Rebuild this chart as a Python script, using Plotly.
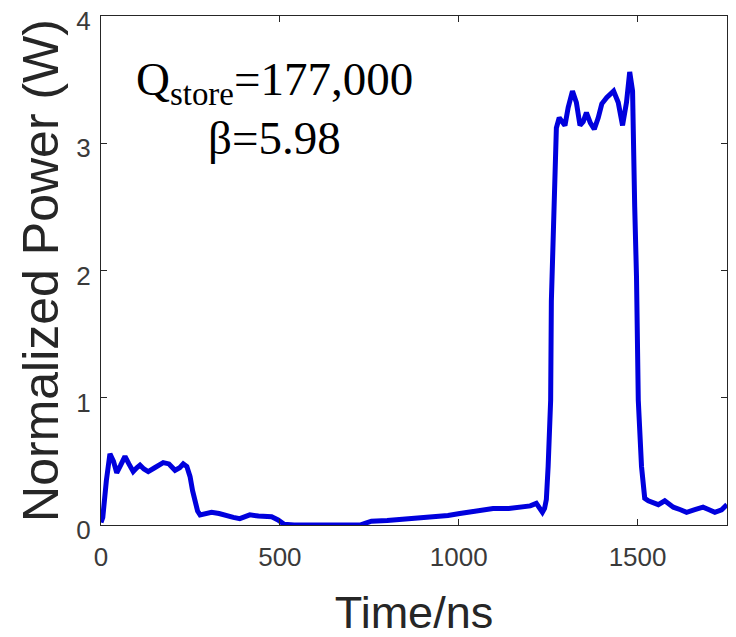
import plotly.graph_objects as go

# Time (ns) and normalized power (W)
time_ns = [0, 5, 15, 25, 35, 44, 55, 67, 78, 90, 100, 109, 120, 132, 150, 174, 190, 207, 220, 230,
           240, 249, 256, 263, 270, 277, 292, 309, 330, 351, 370, 388, 400, 416, 440, 477, 495, 512,
           540, 600, 660, 724, 740, 756, 800, 845, 890, 938, 970, 1003, 1030, 1059, 1096, 1140, 1180,
           1200, 1217, 1226, 1234, 1240, 1245, 1250, 1257, 1259, 1264, 1266, 1269, 1273, 1281, 1290,
           1297, 1306, 1318, 1329, 1339, 1348, 1357, 1368, 1379, 1390, 1400, 1414, 1433, 1446, 1458,
           1469, 1478, 1486, 1488, 1492, 1497, 1502, 1511, 1520, 1530, 1544, 1558, 1576, 1600, 1620,
           1637, 1660, 1683, 1700, 1716, 1735, 1750]
power_w = [0.02, 0.06, 0.35, 0.56, 0.50, 0.41, 0.47, 0.54, 0.48, 0.42, 0.45, 0.47, 0.44, 0.42, 0.45, 0.49,
           0.48, 0.43, 0.45, 0.48, 0.46, 0.38, 0.27, 0.17, 0.11, 0.08, 0.09, 0.10, 0.09, 0.07, 0.06, 0.05,
           0.06, 0.08, 0.07, 0.065, 0.04, 0.005, 0.0, 0.0, 0.0, 0.0, 0.015, 0.03, 0.035, 0.045, 0.055, 0.065,
           0.075, 0.09, 0.10, 0.12, 0.13, 0.13, 0.14, 0.15, 0.17, 0.14, 0.10, 0.13, 0.20, 0.46, 0.98, 1.76,
           2.29, 2.57, 2.92, 3.12, 3.20, 3.16, 3.14, 3.28, 3.41, 3.32, 3.14, 3.17, 3.24, 3.16, 3.11, 3.20,
           3.31, 3.36, 3.41, 3.32, 3.14, 3.32, 3.56, 3.41, 2.99, 2.50, 1.95, 0.98, 0.46, 0.21, 0.19, 0.18,
           0.16, 0.19, 0.14, 0.12, 0.10, 0.12, 0.14, 0.12, 0.10, 0.12, 0.16]

x_ticks = [0, 500, 1000, 1500]
y_ticks = [0, 1, 2, 3, 4]
x_range = [0, 1750]
y_range = [0, 4]

axis_color = "#262626"
tick_font = dict(family="Liberation Sans, Arial, sans-serif", size=26, color="#3a3a3a")

fig = go.Figure()
fig.add_trace(go.Scatter(x=time_ns, y=power_w, mode="lines",
                         line=dict(color="#0000dd", width=5), showlegend=False))

fig.update_xaxes(range=x_range, tickvals=x_ticks, ticks="inside", ticklen=6, tickcolor=axis_color,
                 showline=True, linecolor=axis_color, linewidth=1, mirror="ticks", showgrid=False,
                 zeroline=False, tickfont=tick_font, automargin=False, ticklabelstandoff=9,
                 ticklabeloverflow="allow",
                 title=dict(text="Time/ns", font=dict(family="Liberation Sans, Arial, sans-serif",
                                                      size=45, color=axis_color), standoff=25))
fig.update_yaxes(range=y_range, tickvals=y_ticks, ticks="inside", ticklen=6, tickcolor=axis_color,
                 showline=True, linecolor=axis_color, linewidth=1, mirror="ticks", showgrid=False,
                 zeroline=False, tickfont=tick_font, automargin=False, ticklabelstandoff=4,
                 ticklabelshift=5, ticklabeloverflow="allow",
                 title=dict(text="Normalized Power (W)",
                            font=dict(family="Liberation Sans, Arial, sans-serif", size=50,
                                      color=axis_color), standoff=1))

ann_font = dict(family="Liberation Serif, Times New Roman, serif", size=47, color="black")
fig.add_annotation(x=486, y=3.48, xref="x", yref="y", text="Q<sub>store</sub>=177,000",
                   showarrow=False, font=ann_font, xanchor="center", yanchor="middle")
fig.add_annotation(x=486, y=3.045, xref="x", yref="y", text="β=5.98",
                   showarrow=False, font=ann_font, xanchor="center", yanchor="middle")

# the page adds an 8px body margin, so the margins are shifted to land the plot area in place
fig.update_layout(width=736, height=637, margin=dict(l=93, r=17, t=8, b=120, autoexpand=False),
                  plot_bgcolor="white", paper_bgcolor="white")

fig.write_html("out.html")
